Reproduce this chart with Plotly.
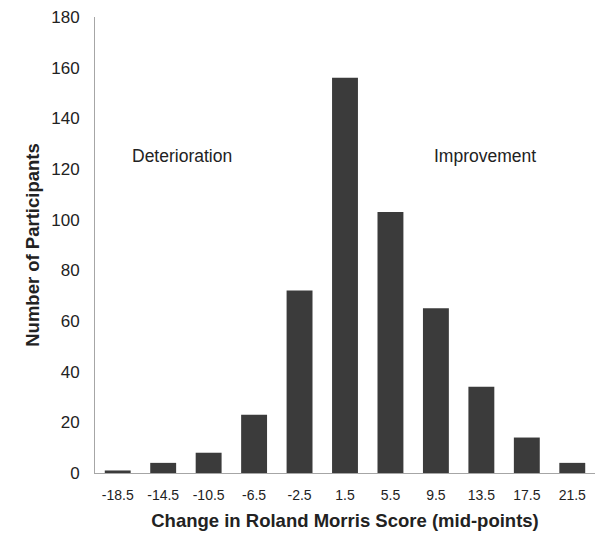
import plotly.graph_objects as go

categories = ["-18.5", "-14.5", "-10.5", "-6.5", "-2.5", "1.5", "5.5", "9.5", "13.5", "17.5", "21.5"]
participants = [1, 4, 8, 23, 72, 156, 103, 65, 34, 14, 4]
y_ticks = [0, 20, 40, 60, 80, 100, 120, 140, 160, 180]

fig = go.Figure()
fig.add_trace(go.Bar(
    x=categories, y=participants,
    marker=dict(color="#3b3b3b", line=dict(width=0)),
))

fig.update_layout(
    width=600, height=546,
    margin=dict(l=95, r=5, t=17, b=73),
    plot_bgcolor="white", paper_bgcolor="white",
    bargap=0.43,
    showlegend=False,
    font=dict(family="Liberation Sans, Arial, sans-serif", color="#222222"),
    xaxis=dict(
        type="category", automargin=False,
        showline=True, linecolor="#a6a6a6", linewidth=1,
        showgrid=False, ticks="", tickfont=dict(size=14), ticklabelstandoff=9,
        title=dict(text="<b>Change in Roland Morris Score (mid-points)</b>", font=dict(size=18.5), standoff=12),
    ),
    yaxis=dict(
        range=[0, 180], tickvals=y_ticks, automargin=False,
        showline=True, linecolor="#a6a6a6", linewidth=1,
        showgrid=False, ticks="", tickfont=dict(size=17), ticklabelstandoff=11,
        title=dict(text="<b>Number of Participants</b>", font=dict(size=18.5), standoff=6),
        zeroline=False,
    ),
    annotations=[
        dict(x=0.174, y=125, xref="paper", yref="y", xanchor="center", text="Deterioration",
             showarrow=False, font=dict(size=17.5, color="#222222")),
        dict(x=0.78, y=125, xref="paper", yref="y", xanchor="center", text="Improvement",
             showarrow=False, font=dict(size=17.5, color="#222222")),
    ],
)

fig.write_html(
    "out.html",
    config={"displayModeBar": False},
    post_script="document.body.style.margin='0px';document.body.style.overflow='hidden';",
)
